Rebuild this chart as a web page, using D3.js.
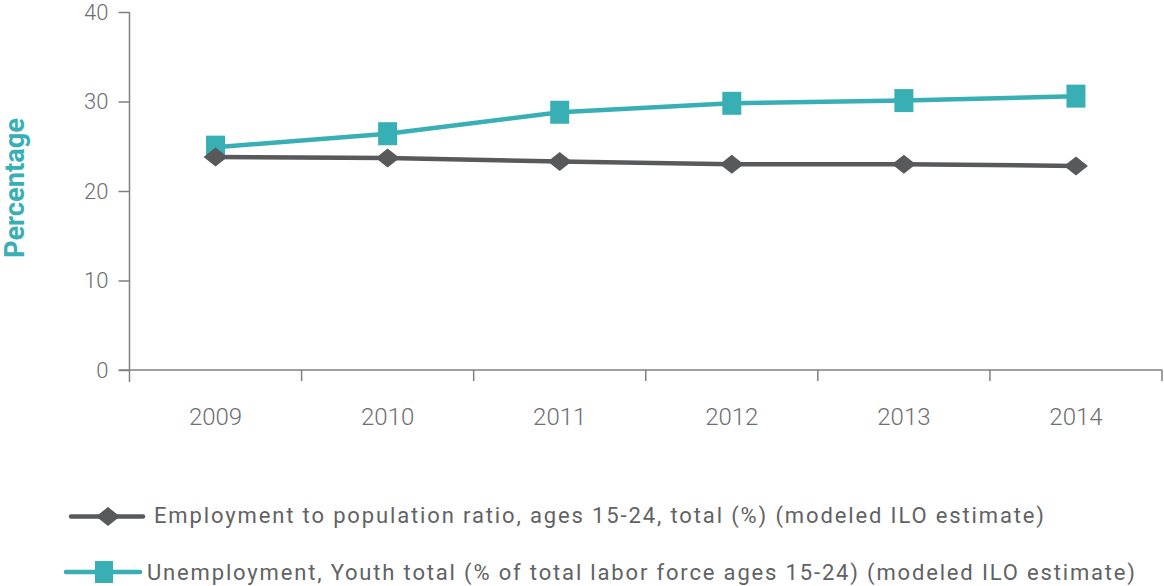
<!DOCTYPE html>
<html><head><meta charset="utf-8">
<script src="https://cdn.jsdelivr.net/npm/d3@7"></script>
<style>
body{margin:0;background:#fff;}
svg{display:block;}
text{font-family:Roboto,"Open Sans",sans-serif;}
</style></head>
<body>
<svg id="chart" width="1164" height="586"></svg>
<script>
const years = ["2009","2010","2011","2012","2013","2014"];
const employment = [23.8, 23.7, 23.3, 23.0, 23.0, 22.8];
const unemployment = [24.9, 26.4, 28.8, 29.8, 30.1, 30.6];
const yTicks = [0, 10, 20, 30, 40];
const seriesNames = [
  "Employment to population ratio, ages 15-24, total (%) (modeled ILO estimate)",
  "Unemployment, Youth total (% of total labor force ages 15-24) (modeled ILO estimate)"
];

const teal = "#38afb4", dark = "#58595b", axisCol = "#808080", textCol = "#6d6e71";
const svg = d3.select("#chart");
const x = d3.scaleBand().domain(years).range([129.5, 1162]);
const y = d3.scaleLinear().domain([0, 40]).range([370, 12]);

// y axis
const gy = svg.append("g").attr("transform","translate(129.5,0)")
  .call(d3.axisLeft(y).tickValues(yTicks).tickSize(11).tickPadding(10).tickSizeOuter(0));
gy.select(".domain").attr("d","M0,12V382");
gy.selectAll(".tick text").style("font-size","22px");
// x axis
const gx = svg.append("g").attr("transform","translate(0,370)")
  .call(d3.axisBottom(x).tickSize(0).tickPadding(38));
gx.select(".domain").attr("d","M119,0H1162");
gx.selectAll(".tick text").style("font-size","24px");
// band boundary ticks
const bounds = years.map(d => x(d)).concat([x.range()[1]]);
gx.selectAll(".btick").data(bounds.slice(1)).enter().append("line")
  .attr("x1",d=>d).attr("x2",d=>d).attr("y1",0).attr("y2",11)
  .attr("stroke",axisCol).attr("stroke-width",1.5);
svg.selectAll(".domain, .tick line").attr("stroke",axisCol).attr("stroke-width",1.5);
svg.selectAll(".tick text").attr("fill",textCol).style("font-weight","300");

svg.append("text").attr("transform","translate(24,188) rotate(-90)")
  .attr("text-anchor","middle").attr("fill",teal).style("font-size","27px").style("font-weight","bold")
  .attr("textLength",140).attr("lengthAdjust","spacingAndGlyphs").text("Percentage");

const cx = d => x(d) + x.bandwidth()/2;
const line = d3.line().x((d,i)=>cx(years[i])).y(d=>y(d));

svg.append("path").datum(employment).attr("d",line).attr("fill","none")
  .attr("stroke",dark).attr("stroke-width",4.5);
svg.append("path").datum(unemployment).attr("d",line).attr("fill","none")
  .attr("stroke",teal).attr("stroke-width",4.5);

function diamond(g, px, py){
  g.append("path").attr("d",`M${px-12},${py}L${px},${py-9.5}L${px+12},${py}L${px},${py+9.5}Z`).attr("fill",dark);
}
function square(g, px, py){
  g.append("rect").attr("x",px-9.5).attr("y",py-11.5).attr("width",19).attr("height",23).attr("fill",teal);
}
const gm = svg.append("g");
unemployment.forEach((v,i)=>square(gm, cx(years[i]), y(v)));
employment.forEach((v,i)=>diamond(gm, cx(years[i]), y(v)));

// legend
const lg = svg.append("g");
lg.append("line").attr("x1",71).attr("x2",143).attr("y1",516.5).attr("y2",516.5)
  .attr("stroke",dark).attr("stroke-width",4.5).attr("stroke-linecap","round");
diamond(lg,108,516.5);
lg.append("text").attr("x",154).attr("y",523).attr("fill","#616264").style("font-size","22px").style("font-weight","400")
  .attr("textLength",890).attr("lengthAdjust","spacing").text(seriesNames[0]);
lg.append("line").attr("x1",66).attr("x2",140).attr("y1",572).attr("y2",572)
  .attr("stroke",teal).attr("stroke-width",4.5).attr("stroke-linecap","round");
lg.append("rect").attr("x",95).attr("y",561).attr("width",18).attr("height",22).attr("fill",teal);
lg.append("text").attr("x",147).attr("y",580).attr("fill","#616264").style("font-size","22px").style("font-weight","400")
  .attr("textLength",988).attr("lengthAdjust","spacing").text(seriesNames[1]);
</script>
</body></html>
